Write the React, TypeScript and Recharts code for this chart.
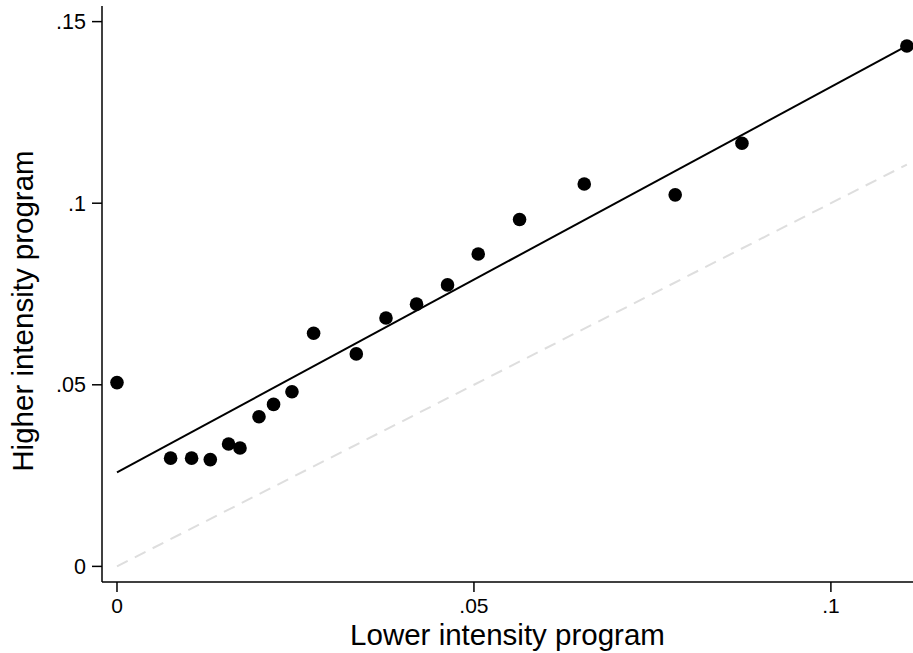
import React from 'react';
import { ScatterChart, Scatter, XAxis, YAxis, Label } from 'recharts';

const lowerIntensity = [0, 0.00751, 0.01045, 0.01307, 0.01563, 0.01723, 0.01989, 0.02193, 0.02451, 0.02754, 0.03352, 0.03768, 0.04196, 0.0463, 0.0506, 0.05639, 0.06545, 0.07819, 0.08754, 0.11064];
const higherIntensity = [0.0506, 0.0298, 0.0298, 0.0294, 0.0337, 0.0326, 0.0412, 0.0446, 0.0481, 0.0642, 0.0585, 0.0684, 0.0722, 0.0775, 0.086, 0.0955, 0.1053, 0.1023, 0.1165, 0.1433];

const fitX = [0, 0.11064];
const fitY = [0.0259, 0.1433];

const diagX = [0, 0.11064];
const diagY = [0, 0.11064];

const xTicks = [0, 0.05, 0.1];
const yTicks = [0, 0.05, 0.1, 0.15];

const points = lowerIntensity.map((x, i) => ({ x, y: higherIntensity[i] }));
const fitData = fitX.map((x, i) => ({ x, y: fitY[i] }));
const diagData = diagX.map((x, i) => ({ x, y: diagY[i] }));

const fmt = (v: number) => {
  if (v === 0) return '0';
  return String(Number(v.toFixed(3))).replace(/^0/, '');
};

const FONT = '"Liberation Sans", Arial, Helvetica, sans-serif';

const XTick = (props: any) => {
  const { x, y, payload } = props;
  return (
    <text x={x} y={y + 19} textAnchor="middle" fontFamily={FONT} fontSize={21} fill="#000">
      {fmt(payload.value)}
    </text>
  );
};

const YTick = (props: any) => {
  const { x, y, payload } = props;
  return (
    <text x={x - 4} y={y + 7.5} textAnchor="end" fontFamily={FONT} fontSize={21.5} fill="#000">
      {fmt(payload.value)}
    </text>
  );
};

const Empty = () => <g />;

export default function App() {
  return (
    <div style={{ width: 913, height: 653 }}>
      <style>{`body{margin:0;}`}</style>
      <ScatterChart width={913} height={653} margin={{ top: 6, right: 0, bottom: 0, left: 0 }}>
        <XAxis
          type="number"
          dataKey="x"
          domain={[-0.0021, 0.1115]}
          allowDataOverflow
          ticks={xTicks}
          tick={<XTick />}
          tickSize={10}
          height={71}
          axisLine={{ stroke: '#000', strokeWidth: 1.5 }}
          tickLine={{ stroke: '#000', strokeWidth: 1.5 }}
        >
          <Label
            content={({ viewBox }: any) => (
              <text
                x={viewBox.x + viewBox.width / 2}
                y={644.5}
                textAnchor="middle"
                fontFamily={FONT}
                fontSize={29.5}
                fill="#000"
              >
                Lower intensity program
              </text>
            )}
          />
        </XAxis>
        <YAxis
          type="number"
          dataKey="y"
          domain={[-0.0043, 0.1543]}
          allowDataOverflow
          ticks={yTicks}
          tick={<YTick />}
          tickSize={10}
          width={102}
          axisLine={{ stroke: '#000', strokeWidth: 1.5 }}
          tickLine={{ stroke: '#000', strokeWidth: 1.5 }}
        >
          <Label
            content={() => (
              <text
                x={33}
                y={311}
                transform="rotate(-90 33 311)"
                textAnchor="middle"
                fontFamily={FONT}
                fontSize={29.5}
                fill="#000"
              >
                Higher intensity program
              </text>
            )}
          />
        </YAxis>
        <Scatter
          data={diagData}
          line={{ stroke: '#dedede', strokeWidth: 2, strokeDasharray: '12 8' }}
          shape={Empty}
          isAnimationActive={false}
        />
        <Scatter
          data={fitData}
          line={{ stroke: '#000', strokeWidth: 2 }}
          shape={Empty}
          isAnimationActive={false}
        />
        <Scatter
          data={points}
          fill="#000"
          shape={(p: any) => <circle cx={p.cx} cy={p.cy} r={6.8} fill="#000" />}
          isAnimationActive={false}
        />
      </ScatterChart>
    </div>
  );
}
